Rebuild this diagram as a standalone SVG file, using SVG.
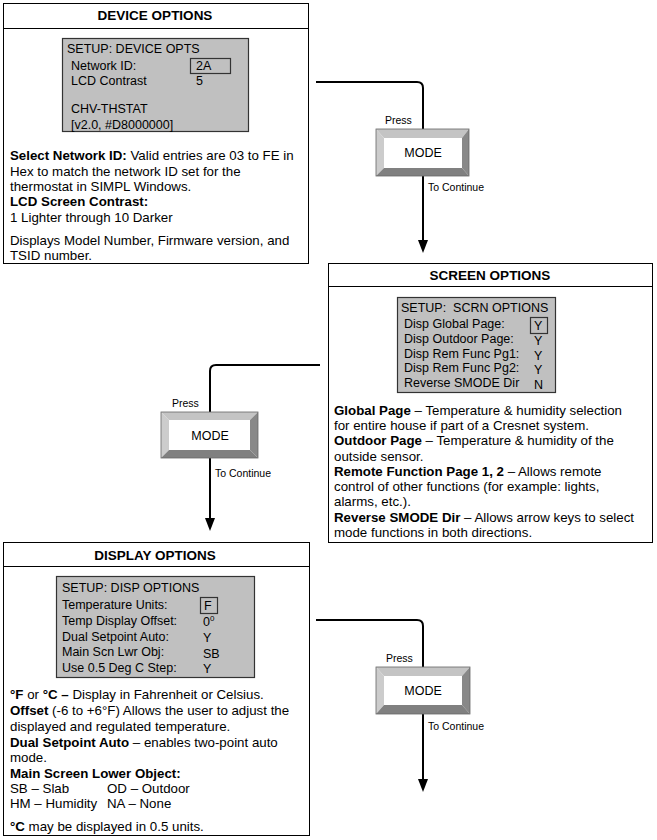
<svg xmlns="http://www.w3.org/2000/svg" width="657" height="840" viewBox="0 0 657 840">
<defs>
<style>
text{font-family:"Liberation Sans",Arial,sans-serif;fill:#000}
.box{fill:#fff;stroke:#000;stroke-width:1}
.lcd{fill:#c0c0c0;stroke:#333;stroke-width:1.2}
.sel{fill:none;stroke:#333;stroke-width:1.2}
.title{font-size:13.5px;font-weight:bold;text-anchor:middle}
.t{font-size:13.3px}
.l{font-size:12.5px}
.b{font-weight:bold}
.sm{font-size:10.5px}
.md{font-size:12.5px;text-anchor:middle}
.conn{fill:none;stroke:#000;stroke-width:2}
.bt{fill:#c4c4c4}
.bl{fill:#cccccc}
.br{fill:#888}
.bb{fill:#808080}
.bi{fill:#fff}
.bo{fill:none;stroke:#666;stroke-width:0.8}
</style>
</defs>

<g id="connectors">
<path class="conn" d="M316,82 H417 Q423,82 423,88 V129"/>
<path class="conn" d="M423,176 V240"/>
<polygon points="418,240 428,240 423,253" fill="#000"/>
<path class="conn" d="M320,365 H216 Q210,365 210,371 V412"/>
<path class="conn" d="M210,458 V518"/>
<polygon points="205,518 215,518 210,531" fill="#000"/>
<path class="conn" d="M316,620 H417 Q423,620 423,626 V667"/>
<path class="conn" d="M423,714 V779"/>
<polygon points="418,779 428,779 423,792" fill="#000"/>
</g>

<g id="device-options">
<rect class="box" x="3.5" y="3.5" width="305" height="260"/>
<line x1="3.5" y1="28.5" x2="308.5" y2="28.5" stroke="#000"/>
<text class="title" x="155" y="20">DEVICE OPTIONS</text>
<rect class="lcd" x="62.5" y="38.5" width="186" height="93"/>
<text class="l" x="67" y="52.5">SETUP: DEVICE OPTS</text>
<text class="l" x="71" y="69.5">Network ID:</text>
<rect class="sel" x="190.5" y="58.5" width="40" height="15"/>
<text class="l" x="196" y="69.5">2A</text>
<text class="l" x="71" y="84.5">LCD Contrast</text>
<text class="l" x="196" y="84.5">5</text>
<text class="l" x="71" y="112.5">CHV-THSTAT</text>
<text class="l" x="71" y="128.5">[v2.0, #D8000000]</text>
<text class="t" x="10" y="159.5"><tspan class="b">Select Network ID:</tspan> Valid entries are 03 to FE in</text>
<text class="t" x="10" y="175.5">Hex to match the network ID set for the</text>
<text class="t" x="10" y="190.5">thermostat in SIMPL Windows.</text>
<text class="t b" x="10" y="205.5">LCD Screen Contrast:</text>
<text class="t" x="10" y="221.5">1 Lighter through 10 Darker</text>
<text class="t" x="10" y="244.5">Displays Model Number, Firmware version, and</text>
<text class="t" x="10" y="259.5">TSID number.</text>
</g>

<g id="mode-button-1">
<polygon class="bt" points="376,129 469,129 462,138 384,138"/>
<polygon class="bl" points="376,129 384,138 384,168 376,176"/>
<polygon class="br" points="469,129 469,176 462,168 462,138"/>
<polygon class="bb" points="376,176 384,168 462,168 469,176"/>
<rect class="bi" x="384" y="138" width="78" height="30"/>
<rect class="bo" x="376" y="129" width="93" height="47"/>
<text class="md" x="423" y="157">MODE</text>
<text class="sm" x="385" y="124">Press</text>
<text class="sm" x="428" y="191">To Continue</text>
</g>

<g id="screen-options">
<rect class="box" x="328.5" y="263.5" width="324" height="279"/>
<line x1="328.5" y1="286.5" x2="652.5" y2="286.5" stroke="#000"/>
<text class="title" x="490" y="280">SCREEN OPTIONS</text>
<rect class="lcd" x="397.5" y="297.5" width="158" height="95"/>
<text class="l" x="401" y="311.5" xml:space="preserve">SETUP:  SCRN OPTIONS</text>
<text class="l" x="404" y="327.5">Disp Global Page:</text>
<text class="l" x="404" y="342.5">Disp Outdoor Page:</text>
<text class="l" x="404" y="357.5">Disp Rem Func Pg1:</text>
<text class="l" x="404" y="371.5">Disp Rem Func Pg2:</text>
<text class="l" x="404" y="386.5">Reverse SMODE Dir</text>
<rect class="sel" x="530.5" y="317.5" width="17" height="16"/>
<text class="l" x="534" y="329.5">Y</text>
<text class="l" x="534" y="344.5">Y</text>
<text class="l" x="534" y="359.5">Y</text>
<text class="l" x="534" y="373.5">Y</text>
<text class="l" x="534" y="388.5">N</text>
<text class="t" x="334" y="414.5"><tspan class="b">Global Page</tspan> – Temperature &amp; humidity selection</text>
<text class="t" x="334" y="429.5">for entire house if part of a Cresnet system.</text>
<text class="t" x="334" y="444.5"><tspan class="b">Outdoor Page</tspan> – Temperature &amp; humidity of the</text>
<text class="t" x="334" y="460.5">outside sensor.</text>
<text class="t" x="334" y="475.5"><tspan class="b">Remote Function Page 1, 2</tspan> – Allows remote</text>
<text class="t" x="334" y="490.5">control of other functions (for example: lights,</text>
<text class="t" x="334" y="505.5">alarms, etc.).</text>
<text class="t" x="334" y="521.5"><tspan class="b">Reverse SMODE Dir</tspan> – Allows arrow keys to select</text>
<text class="t" x="334" y="536.5">mode functions in both directions.</text>
</g>

<g id="mode-button-2">
<polygon class="bt" points="161,412 258,412 250,420 169,420"/>
<polygon class="bl" points="161,412 169,420 169,450 161,458"/>
<polygon class="br" points="258,412 258,458 250,450 250,420"/>
<polygon class="bb" points="161,458 169,450 250,450 258,458"/>
<rect class="bi" x="169" y="420" width="81" height="30"/>
<rect class="bo" x="161" y="412" width="97" height="46"/>
<text class="md" x="210" y="440">MODE</text>
<text class="sm" x="172" y="407">Press</text>
<text class="sm" x="215" y="477">To Continue</text>
</g>

<g id="display-options">
<rect class="box" x="3.5" y="542.5" width="306" height="293"/>
<line x1="3.5" y1="566.5" x2="309.5" y2="566.5" stroke="#000"/>
<text class="title" x="155" y="560">DISPLAY OPTIONS</text>
<rect class="lcd" x="56.5" y="576.5" width="198" height="101"/>
<text class="l" x="62" y="591.5">SETUP: DISP OPTIONS</text>
<text class="l" x="62" y="608.5">Temperature Units:</text>
<text class="l" x="62" y="624.5">Temp Display Offset:</text>
<text class="l" x="62" y="640.5">Dual Setpoint Auto:</text>
<text class="l" x="62" y="655.5">Main Scn Lwr Obj:</text>
<text class="l" x="62" y="671.5">Use 0.5 Deg C Step:</text>
<rect class="sel" x="200.5" y="597.5" width="17" height="16"/>
<text class="l" x="204" y="609.5">F</text>
<text class="l" x="203" y="625.5">0<tspan font-size="8" dy="-5">0</tspan></text>
<text class="l" x="203" y="641.5">Y</text>
<text class="l" x="203" y="657.5">SB</text>
<text class="l" x="203" y="672.5">Y</text>
<text class="t" x="10" y="698.5"><tspan class="b">°F</tspan> or <tspan class="b">°C –</tspan> Display in Fahrenheit or Celsius.</text>
<text class="t" x="10" y="714.5"><tspan class="b">Offset</tspan> (-6 to +6°F) Allows the user to adjust the</text>
<text class="t" x="10" y="730.5">displayed and regulated temperature.</text>
<text class="t" x="10" y="746.5"><tspan class="b">Dual Setpoint Auto</tspan> – enables two-point auto</text>
<text class="t" x="10" y="761.5">mode.</text>
<text class="t b" x="10" y="777.5">Main Screen Lower Object:</text>
<text class="t" x="10" y="792.5">SB – Slab</text>
<text class="t" x="107" y="792.5">OD – Outdoor</text>
<text class="t" x="10" y="807.5">HM – Humidity</text>
<text class="t" x="107" y="807.5">NA – None</text>
<text class="t" x="10" y="830.5"><tspan class="b">°C</tspan> may be displayed in 0.5 units.</text>
</g>

<g id="mode-button-3">
<polygon class="bt" points="376,667 470,667 462,676 384,676"/>
<polygon class="bl" points="376,667 384,676 384,705 376,714"/>
<polygon class="br" points="470,667 470,714 462,705 462,676"/>
<polygon class="bb" points="376,714 384,705 462,705 470,714"/>
<rect class="bi" x="384" y="676" width="78" height="29"/>
<rect class="bo" x="376" y="667" width="94" height="47"/>
<text class="md" x="423" y="695">MODE</text>
<text class="sm" x="386" y="662">Press</text>
<text class="sm" x="428" y="730">To Continue</text>
</g>
</svg>
